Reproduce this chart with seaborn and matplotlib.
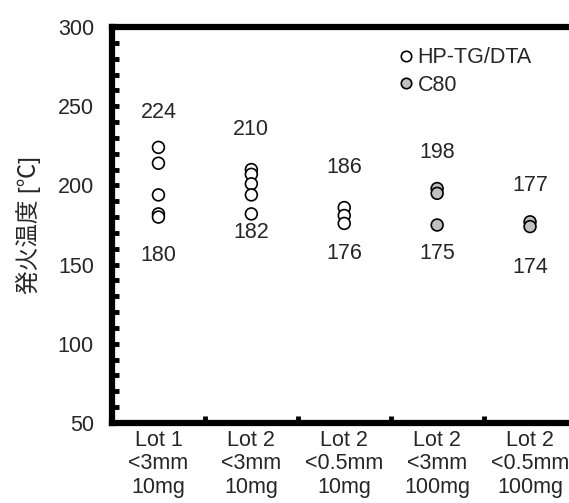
import pandas as pd
import matplotlib
matplotlib.use("Agg")
import matplotlib.pyplot as plt
from matplotlib.lines import Line2D
from matplotlib.ticker import MultipleLocator, FixedLocator
import seaborn as sns

sns.set_style("white")
plt.rcParams['font.family'] = ['Liberation Sans', 'Noto Sans CJK JP', 'DejaVu Sans']

# samples (x axis)
categories = ["Lot 1\n<3mm\n10mg", "Lot 2\n<3mm\n10mg", "Lot 2\n<0.5mm\n10mg",
              "Lot 2\n<3mm\n100mg", "Lot 2\n<0.5mm\n100mg"]
methods = ["HP-TG/DTA", "HP-TG/DTA", "HP-TG/DTA", "C80", "C80"]

# ignition temperatures
temps = [
    [224, 214, 194, 182, 180],
    [210, 207, 201, 194, 182],
    [186, 181, 176],
    [198, 195, 175],
    [177, 174],
]

# where the max / min labels sit (layout only)
max_label_y = [246, 235, 211, 221, 200]
min_label_y = [156, 170, 157, 157, 148]

rows = []
for cat, meth, vals in zip(categories, methods, temps):
    for v in vals:
        rows.append({"sample": cat, "method": meth, "temp": v})
df = pd.DataFrame(rows)

fs = 15.5

fig = plt.figure(figsize=(5.69, 5.03), dpi=100)
ax = fig.add_axes([112 / 569, 1 - 423 / 503, (576.5 - 112) / 569, (423 - 27) / 503])

sns.stripplot(data=df, x="sample", y="temp", hue="method", order=categories,
              hue_order=["HP-TG/DTA", "C80"],
              palette={"HP-TG/DTA": "white", "C80": "#c0c0c0"},
              jitter=False, dodge=False, size=8.5, linewidth=1.2,
              edgecolor="black", legend=False, ax=ax)

for i, vals in enumerate(temps):
    ax.text(i, max_label_y[i], str(max(vals)), ha="center", va="center", fontsize=fs)
    ax.text(i, min_label_y[i], str(min(vals)), ha="center", va="center", fontsize=fs)

ax.set_xlim(-0.5, 4.5)
ax.set_ylim(50, 300)
ax.yaxis.set_major_locator(MultipleLocator(50))
ax.yaxis.set_minor_locator(MultipleLocator(10))
ax.xaxis.set_minor_locator(FixedLocator([0.5, 1.5, 2.5, 3.5]))

for sp in ax.spines.values():
    sp.set_linewidth(4.5)
    sp.set_color("black")

ax.tick_params(axis="y", which="both", direction="in", length=5, width=3.5,
               color="black", labelsize=fs, pad=13, left=True)
ax.tick_params(axis="x", which="major", length=0, labelsize=fs, pad=5)
ax.tick_params(axis="x", which="minor", direction="in", length=5, width=3.5,
               color="black", bottom=True)
for lab in ax.get_xticklabels():
    lab.set_linespacing(1.15)

ax.set_xlabel("")
ax.set_ylabel("発火温度 [℃]", fontsize=17, labelpad=12)

handles = [
    Line2D([], [], marker="o", ls="none", markersize=7.5, markerfacecolor="white",
           markeredgecolor="black", markeredgewidth=1.2, label="HP-TG/DTA"),
    Line2D([], [], marker="o", ls="none", markersize=7.5, markerfacecolor="#c0c0c0",
           markeredgecolor="black", markeredgewidth=1.2, label="C80"),
]
ax.legend(handles=handles, loc="upper left", bbox_to_anchor=(0.565, 1.0), frameon=False,
          fontsize=fs, handletextpad=0.05, handlelength=1.0, labelspacing=0.3,
          borderaxespad=0.55)

fig.savefig("out.png", dpi=100)
